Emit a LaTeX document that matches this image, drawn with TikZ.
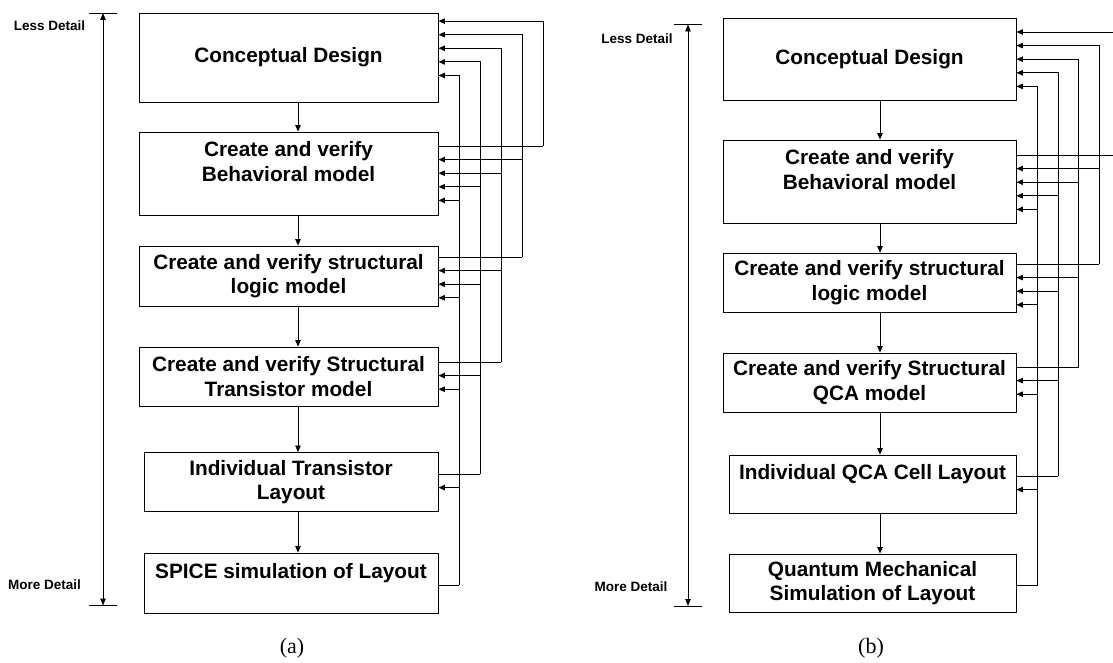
\documentclass[tikz,border=0pt]{standalone}
\usepackage{fontspec}
\setmainfont{Liberation Serif}
\setsansfont{Liberation Sans}
\usetikzlibrary{arrows.meta,calc}

\tikzset{
    box/.style={draw, line width=0.9pt, align=center, inner sep=0pt,
        font=\sffamily\bfseries\fontsize{20.8}{24.5}\selectfont},
    flow/.style={line width=0.8pt, -{Triangle[length=6.5pt,width=5.5pt]}},
    wire/.style={line width=0.8pt},
    fbk/.style={line width=0.8pt, -{Triangle[length=6.5pt,width=5.5pt]}},
    dim/.style={line width=0.8pt, {Triangle[length=7pt,width=5.5pt]}-{Triangle[length=7pt,width=5.5pt]}},
    side/.style={font=\sffamily\bfseries\fontsize{13.5}{16}\selectfont, inner sep=0pt},
    panel/.style={font=\fontsize{22}{26}\selectfont, inner sep=0pt}
}

\begin{document}
\begin{tikzpicture}[x=1pt,y=-1pt]
\useasboundingbox (0,0) rectangle (1113,663);

% (a) CMOS flow
\node[box, minimum width=299pt, minimum height=89pt] (a1) at (288.5,57.5) {Conceptual Design\\[-18.5pt] \mbox{}};
\node[box, minimum width=299pt, minimum height=83pt] (a2) at (288.5,173.5) {Create and verify\\Behavioral model\\ \mbox{}};
\node[box, minimum width=299pt, minimum height=60pt] (a3) at (288.5,276) {Create and verify structural\\logic model};
\node[box, minimum width=299pt, minimum height=59pt] (a4) at (288.5,376.5) {Create and verify Structural\\Transistor model};
\node[box, minimum width=294pt, minimum height=59pt] (a5) at (291,482) {Individual Transistor\\Layout};
\node[box, minimum width=294pt, minimum height=60pt] (a6) at (291,583) {SPICE simulation of Layout\\ \mbox{}};

\foreach \i [count=\j from 2] in {1,...,5}
    \draw[flow] (a\i.south -| 298,0) -- (a\j.north -| 298,0);

% feedback loops, outermost first
\foreach \j in {2,...,6}{
    \pgfmathtruncatemacro\k{\j-1}
    \pgfmathsetmacro\ys{{7.5,146,257,362,474,585}[\k]}
    \pgfmathsetmacro\cx{543-21*(\j-2)}
    \draw[wire] (a\j.east |- 0,\ys) -- (\cx,\ys);
    \foreach \i in {1,...,\k}{
        \pgfmathtruncatemacro\m{\i-1}
        \pgfmathsetmacro\yt{{7.5,146,257,362,474,585}[\m]+13.6*(\j-\i)}
        \draw[fbk] (\cx,\ys) -- (\cx,\yt) -- (a\i.east |- 0,\yt);
    }
}

\coordinate (atop) at (103,13);
\coordinate (abot) at (103,605.5);
\draw[dim] (atop) -- (abot);
\draw[wire] ($(atop)+(-14,0)$) -- ($(atop)+(14,0)$);
\draw[wire] ($(abot)+(-14,0)$) -- ($(abot)+(14,0)$);
\node[side] (aless) at (49.5,26) {Less Detail};
\node[side] (amore) at (44.5,584.5) {More Detail};
\node[panel] (acap) at (292,648) {(a)};

% (b) QCA flow
\node[box, minimum width=293pt, minimum height=82pt] (b1) at (869.5,59) {Conceptual Design};
\node[box, minimum width=293pt, minimum height=83pt] (b2) at (869.5,181.5) {Create and verify\\Behavioral model\\ \mbox{}};
\node[box, minimum width=293pt, minimum height=59pt] (b3) at (869.5,282.5) {Create and verify structural\\logic model};
\node[box, minimum width=293pt, minimum height=59pt] (b4) at (869.5,382.5) {Create and verify Structural\\QCA model};
\node[box, minimum width=287pt, minimum height=58pt] (b5) at (872.5,484) {Individual QCA Cell Layout\\ \mbox{}};
\node[box, minimum width=287pt, minimum height=58pt] (b6) at (872.5,583) {Quantum Mechanical\\Simulation of Layout};

\foreach \i [count=\j from 2] in {1,...,5}
    \draw[flow] (b\i.south -| 880,0) -- (b\j.north -| 880,0);

\foreach \j in {2,...,6}{
    \pgfmathtruncatemacro\k{\j-1}
    \pgfmathsetmacro\ys{{18.4,155,264,367,476,585}[\k]}
    \pgfmathsetmacro\cx{1119.5-20.5*(\j-2)}
    \draw[wire] (b\j.east |- 0,\ys) -- (\cx,\ys);
    \foreach \i in {1,...,\k}{
        \pgfmathtruncatemacro\m{\i-1}
        \pgfmathsetmacro\yt{{18.4,155,264,367,476,585}[\m]+13.6*(\j-\i)}
        \draw[fbk] (\cx,\ys) -- (\cx,\yt) -- (b\i.east |- 0,\yt);
    }
}

\coordinate (btop) at (688,24.5);
\coordinate (bbot) at (688,606);
\draw[dim] (btop) -- (bbot);
\draw[wire] ($(btop)+(-14,0)$) -- ($(btop)+(14,0)$);
\draw[wire] ($(bbot)+(-14,0)$) -- ($(bbot)+(14,0)$);
\node[side] (bless) at (637,39) {Less Detail};
\node[side] (bmore) at (631,587) {More Detail};
\node[panel] (bcap) at (871,648) {(b)};
\end{tikzpicture}
\end{document}
